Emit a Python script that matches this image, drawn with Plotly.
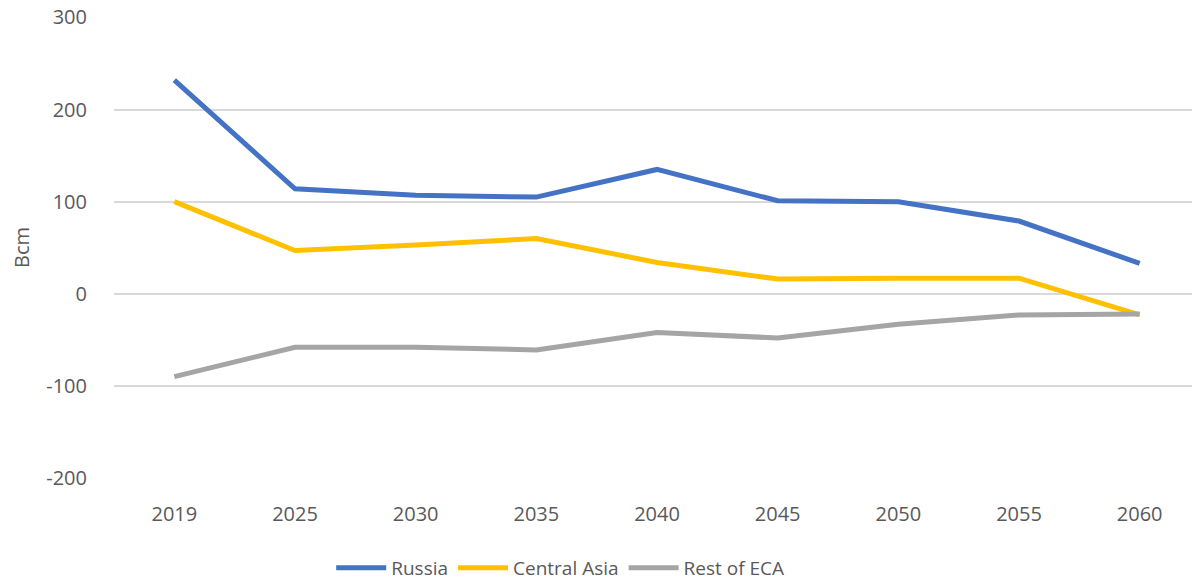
import plotly.graph_objects as go

years = ["2019", "2025", "2030", "2035", "2040", "2045", "2050", "2055", "2060"]
russia = [232, 114, 107, 105, 135, 101, 100, 79, 33]
central_asia = [100, 47, 53, 60, 34, 16, 17, 17, -23]
rest_of_eca = [-90, -58, -58, -61, -42, -48, -33, -23, -22]
y_ticks = [-200, -100, 0, 100, 200, 300]
y_labels = ["-200", "-100", "0", "100", "200", "300"]

series = [
    ("Russia", russia, "#4472C4"),
    ("Central Asia", central_asia, "#FFC000"),
    ("Rest of ECA", rest_of_eca, "#A5A5A5"),
]

fig = go.Figure()
for name, vals, color in series:
    fig.add_trace(go.Scatter(x=years, y=vals, name=name, mode="lines",
                             line=dict(color=color, width=5)))

font = dict(family="Open Sans, Liberation Sans, sans-serif", size=20, color="#595959")

# page body adds ~8px offset, margins compensate
fig.update_layout(
    width=1200, height=582,
    margin=dict(l=106, r=8, t=9, b=112, autoexpand=False),
    plot_bgcolor="white", paper_bgcolor="white",
    font=font,
    showlegend=True,
    legend=dict(orientation="h", x=0.2, xanchor="left", y=-0.195, yanchor="middle",
                font=dict(size=19, color="#595959"), itemwidth=50),
)
fig.update_xaxes(type="category", range=[-0.5, 8.5], showgrid=False, showline=False,
                 zeroline=False, ticks="", ticklabelstandoff=22, tickfont=dict(size=20),
                 automargin=False)
fig.update_yaxes(range=[-200, 300.5], tickvals=y_ticks, ticktext=y_labels, showgrid=True,
                 gridcolor="#D9D9D9", gridwidth=2, zeroline=False, showline=False, ticks="",
                 ticklabelstandoff=26, tickfont=dict(size=20), automargin=False,
                 ticklabeloverflow="allow",
                 title=dict(text="Bcm", standoff=20, font=dict(size=20)))

fig.write_html("out.html")
